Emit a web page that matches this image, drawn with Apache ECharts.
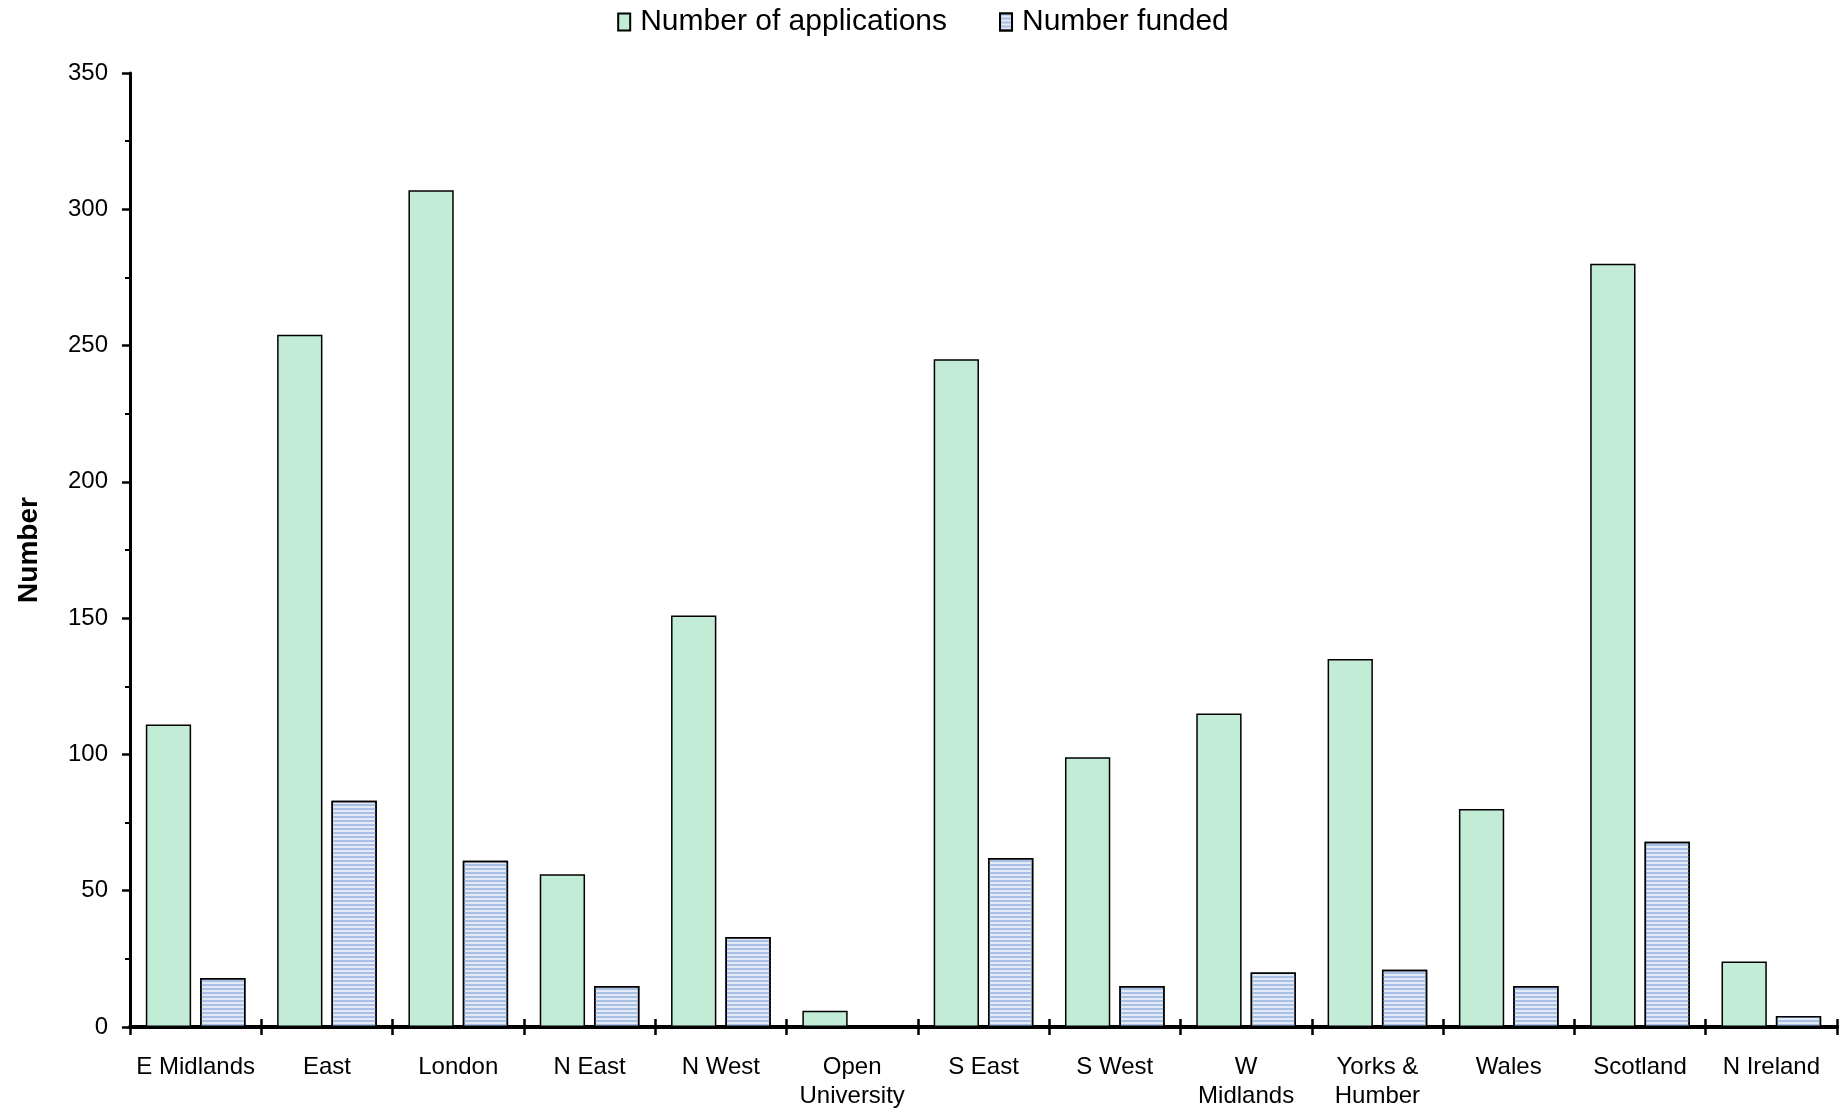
<!DOCTYPE html>
<html>
<head>
<meta charset="utf-8">
<script src="https://cdn.jsdelivr.net/npm/echarts@6/dist/echarts.min.js"></script>
<style>html,body{margin:0;padding:0;background:#fff}#c{width:1846px;height:1111px}</style>
</head>
<body>
<div id="c"></div>
<script>
const categories = ['E Midlands','East','London','N East','N West','Open\nUniversity','S East','S West','W\nMidlands','Yorks &\nHumber','Wales','Scotland','N Ireland'];
const applications = [111, 254, 307, 56, 151, 6, 245, 99, 115, 135, 80, 280, 24];
const funded = [18, 83, 61, 15, 33, 0, 62, 15, 20, 21, 15, 68, 4];
const yTicks = {min: 0, max: 350, interval: 50};

const FONT = 'Liberation Sans, Arial, sans-serif';
const chart = echarts.init(document.getElementById('c'));
chart.setOption({
  animation: false,
  backgroundColor: '#fff',
  textStyle: {fontFamily: FONT, color: '#000'},
  legend: {
    top: 2, left: 'center', icon: 'rect',
    itemWidth: 12, itemHeight: 17, itemGap: 52,
    textStyle: {fontSize: 30, fontFamily: FONT, color: '#000', padding: [0, 0, 0, 5]},
    data: ['Number of applications', 'Number funded']
  },
  grid: {left: 130, right: 9, top: 73, bottom: 84, containLabel: false},
  xAxis: [{
    type: 'category', data: categories, position: 'bottom',
    axisLine: {lineStyle: {color: '#000', width: 4}},
    axisTick: {show: true, length: 8, lineStyle: {color: '#000', width: 2.5}},
    axisLabel: {fontSize: 24, fontFamily: FONT, color: '#000', margin: 26, lineHeight: 29, interval: 0}
  }, {
    type: 'category', data: categories, position: 'bottom',
    axisLine: {show: false},
    axisTick: {show: true, inside: true, length: 8, lineStyle: {color: '#000', width: 2.5}},
    axisLabel: {show: false}
  }],
  yAxis: {
    type: 'value', min: yTicks.min, max: yTicks.max, interval: yTicks.interval,
    name: 'Number', nameLocation: 'middle', nameGap: 87, nameRotate: 90,
    nameTextStyle: {fontSize: 28, fontWeight: 'bold', fontFamily: FONT, color: '#000'},
    axisLine: {show: true, lineStyle: {color: '#000', width: 3}},
    axisTick: {show: true, length: 8, lineStyle: {color: '#000', width: 2.5}},
    minorTick: {show: true, splitNumber: 2, length: 5, lineStyle: {color: '#000', width: 2}},
    splitLine: {show: false},
    axisLabel: {fontSize: 24, fontFamily: FONT, color: '#000', margin: 22}
  },
  series: [{
    name: 'Number of applications', type: 'bar', data: applications,
    barWidth: '34.5%', barGap: '20%',
    itemStyle: {color: '#c2ecd5', borderColor: '#000', borderWidth: 1.5}
  }, {
    name: 'Number funded', type: 'bar', data: funded,
    barWidth: '34.5%', barGap: '20%',
    itemStyle: {
      color: '#e4eaf5', borderColor: '#000', borderWidth: 1.5,
      decal: {symbol: 'rect', symbolSize: 1, dashArrayX: [[1, 0]], dashArrayY: [1.5, 2], rotation: 0, color: '#a8c0e6'}
    }
  }]
});
</script>
</body>
</html>
